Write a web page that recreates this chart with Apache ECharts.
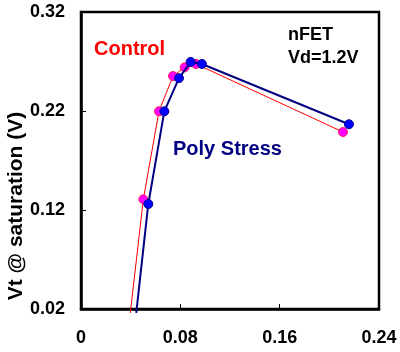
<!DOCTYPE html>
<html>
<head>
<meta charset="utf-8">
<script src="https://cdn.jsdelivr.net/npm/echarts@6/dist/echarts.min.js"></script>
<style>
html,body{margin:0;padding:0;background:#fff;}
#c{width:400px;height:352px;}
</style>
</head>
<body>
<div id="c"></div>
<script>
// Data (x, Vt)
var controlX = [0.0397, 0.0502, 0.0628, 0.0741, 0.0835, 0.0926, 0.2110];
var controlY = [0.016, 0.1308, 0.2197, 0.2553, 0.2641, 0.2675, 0.1988];
var polyX = [0.0445, 0.0542, 0.0671, 0.0789, 0.0883, 0.0974, 0.2158];
var polyY = [0.016, 0.1261, 0.2197, 0.2532, 0.2695, 0.2675, 0.2066];
var xTickLabels = ['0', '0.08', '0.16', '0.24'];
var yTickLabels = ['0.02', '0.12', '0.22', '0.32'];
var yOffset = 0.02; // y axis starts at 0.02

var FONT = '"Liberation Sans", Arial, sans-serif';

function build(xs, ys) {
  return xs.map(function (x, i) {
    var item = { value: [x, +(ys[i] - yOffset).toFixed(5)] };
    if (i === 0) item.symbol = 'none';
    return item;
  });
}

var chart = echarts.init(document.getElementById('c'));
chart.setOption({
  animation: false,
  backgroundColor: '#fff',
  grid: { left: 81, right: 21, top: 12, bottom: 43, show: true, borderColor: '#000', borderWidth: 2.5, backgroundColor: 'transparent' },
  xAxis: {
    type: 'value', min: 0, max: 0.24, interval: 0.08,
    axisLine: { show: true, lineStyle: { color: '#000', width: 2.5 } },
    axisTick: { show: true, inside: true, length: 5, lineStyle: { color: '#000', width: 1 } },
    splitLine: { show: false },
    axisLabel: {
      color: '#000', fontFamily: FONT, fontWeight: 'bold', fontSize: 18, margin: 20,
      formatter: function (v) { return xTickLabels[Math.round(v / 0.08)]; }
    }
  },
  yAxis: {
    type: 'value', min: 0, max: 0.3, interval: 0.1,
    axisLine: { show: true, lineStyle: { color: '#000', width: 2.5 } },
    axisTick: { show: true, inside: true, length: 5, lineStyle: { color: '#000', width: 1 } },
    splitLine: { show: false },
    axisLabel: {
      color: '#000', fontFamily: FONT, fontWeight: 'bold', fontSize: 18, margin: 16,
      formatter: function (v) { return yTickLabels[Math.round(v / 0.1)]; }
    }
  },
  series: [
    {
      name: 'Control', type: 'line', clip: false,
      data: build(controlX, controlY),
      symbol: 'circle', symbolSize: 9,
      lineStyle: { color: '#ff0000', width: 1 },
      itemStyle: { color: '#ff00ff', borderColor: '#ff2060', borderWidth: 1 },
      z: 2
    },
    {
      name: 'Poly Stress', type: 'line', clip: false,
      data: build(polyX, polyY),
      symbol: 'circle', symbolSize: 9,
      lineStyle: { color: '#000080', width: 2 },
      itemStyle: { color: '#0000ff', borderColor: '#000090', borderWidth: 1 },
      z: 3
    }
  ],
  graphic: [
    { type: 'text', left: 94, top: 39, style: { text: 'Control', fill: '#ff0000', font: 'bold 20px ' + FONT } },
    { type: 'text', left: 173, top: 139, style: { text: 'Poly Stress', fill: '#000080', font: 'bold 20px ' + FONT } },
    { type: 'text', left: 288, top: 26, style: { text: 'nFET', fill: '#000', font: 'bold 18px ' + FONT } },
    { type: 'text', left: 288, top: 49, style: { text: 'Vd=1.2V', fill: '#000', font: 'bold 18px ' + FONT } },
    { type: 'text', x: 16, y: 206, rotation: Math.PI / 2,
      style: { text: 'Vt @ saturation (V)', fill: '#000', font: 'bold 21px ' + FONT, align: 'center', verticalAlign: 'middle' } }
  ]
});
</script>
</body>
</html>
